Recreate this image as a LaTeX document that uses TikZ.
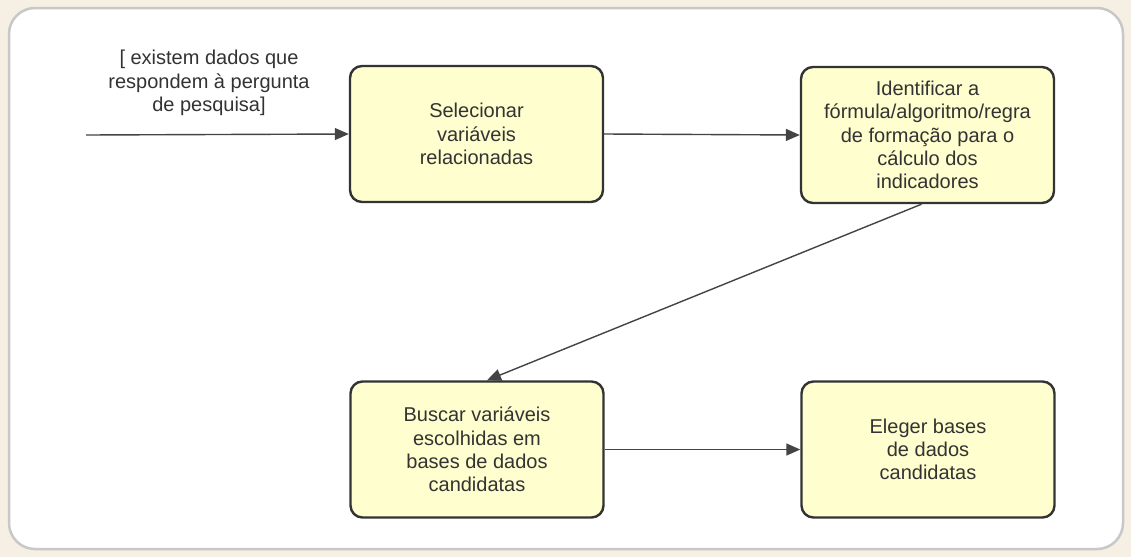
\documentclass[tikz,border=0pt]{standalone}
\usepackage{fontspec}
\setmainfont{Liberation Sans}
\usetikzlibrary{arrows.meta}
\definecolor{pagebg}{HTML}{F5EFE4}
\definecolor{panelline}{HTML}{C8C8C8}
\definecolor{boxfill}{HTML}{FEFECE}
\definecolor{boxline}{HTML}{333333}
\definecolor{ink}{HTML}{333333}
\definecolor{wire}{HTML}{444444}
\tikzset{
  stepbox/.style={draw=boxline, line width=2.4pt, fill=boxfill, rounded corners=12pt,
    minimum width=253pt, minimum height=136pt, align=center, text=ink,
    font=\fontsize{20}{23.3}\selectfont, inner sep=0pt},
  flow/.style={draw=wire, line width=1.4pt, -{Triangle[length=14pt,width=12pt]}},
  guard/.style={align=center, text=ink, font=\fontsize{20}{23.5}\selectfont}
}
\begin{document}
\begin{tikzpicture}[x=1pt,y=-1pt]
  \fill[pagebg] (0,0) rectangle (1131,557);
  \useasboundingbox (0,0) rectangle (1131,557);
  \draw[panelline, line width=2.5pt, fill=white, rounded corners=26pt] (9,8) rectangle (1123,549);

  \node[stepbox] (sel) at (476.5,134) {Selecionar\\variáveis\\relacionadas};
  \node[stepbox] (ident) at (927.5,135) {Identificar a\\fórmula/algoritmo/regra\\de formação para o\\cálculo dos\\indicadores};
  \node[stepbox] (busca) at (477,449.5) {Buscar variáveis\\escolhidas em\\bases de dados\\candidatas};
  \node[stepbox] (eleger) at (928,449.5) {Eleger bases\\de dados\\candidatas};

  \coordinate (start) at (86,135);
  \node[guard] (cond) at (209,83) {[ existem dados que\\respondem à pergunta\\de pesquisa]};

  \draw[flow] (start) -- (sel.west);
  \draw[flow] (sel.east) -- (ident.west);
  \draw[flow] ([xshift=-6pt]ident.south) -- ([xshift=10pt]busca.north);
  \draw[flow] (busca.east) -- (eleger.west);
\end{tikzpicture}
\end{document}
